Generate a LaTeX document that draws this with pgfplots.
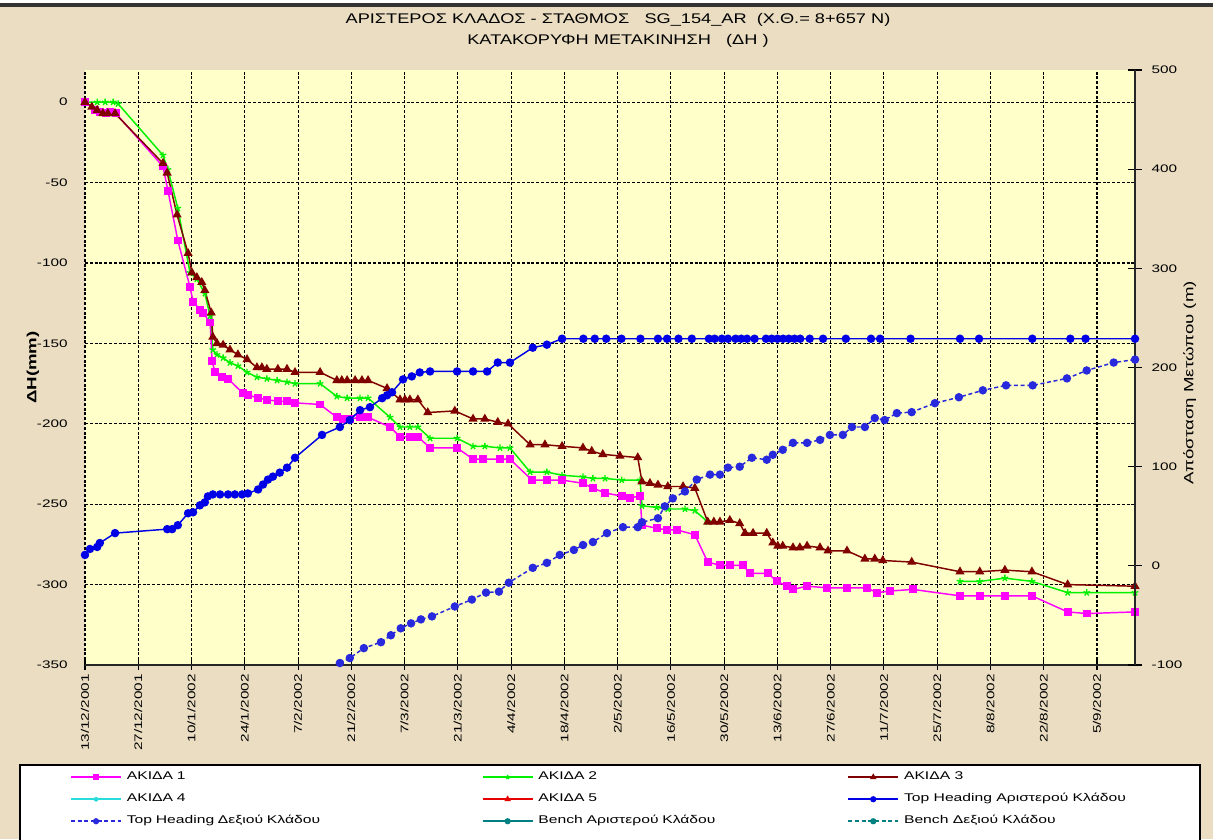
\documentclass[border=0pt]{standalone}
\usepackage{fontspec}
\setmainfont{Liberation Sans}
\newfontfamily\lab{Liberation Sans}[FakeStretch=1.4]
\newfontfamily\ttl{Liberation Sans}[FakeStretch=1.3]
\usepackage{pgfplots}
\usepackage{pgfplotstable}
\pgfplotsset{compat=1.18}

\definecolor{parch}{RGB}{234,221,194}
\definecolor{plotbg}{RGB}{255,255,202}
\definecolor{ak1}{RGB}{255,0,255}
\definecolor{ak2}{RGB}{0,240,0}
\definecolor{ak3}{RGB}{128,0,0}
\definecolor{ak4}{RGB}{40,220,220}
\definecolor{ak5}{RGB}{230,0,0}
\definecolor{thb}{RGB}{0,0,230}
\definecolor{thd}{RGB}{40,40,220}
\definecolor{bench}{RGB}{0,128,128}

% day 0 = 13/12/2001 ; displacement in mm (left axis)
\pgfplotstableread{
d v
0 0
2.6 -5
3.9 -6
5.5 -7
6.6 -6
8.1 -7
20.5 -40
21.8 -55
24.4 -86
27.6 -115
28.4 -124
30.2 -129
31.0 -131
32.9 -137
33.4 -161
34.2 -168
36.0 -171
37.6 -172
41.5 -181
42.8 -182
45.5 -184
47.8 -185
50.7 -186
53.1 -186
55.2 -187
61.8 -188
66.2 -196
67.8 -197
69.6 -197
72.3 -196
74.4 -196
80.2 -202
82.8 -208
85.4 -208
87.5 -208
90.7 -215
97.8 -215
102.0 -222
104.6 -222
109.1 -222
111.7 -222
117.5 -235
121.4 -235
125.4 -235
130.9 -237
133.5 -240
136.7 -243
141.1 -245
143.2 -246
145.9 -245
146.4 -263
150.3 -265
153.0 -266
155.6 -266
160.3 -269
163.7 -286
166.9 -288
169.5 -288
172.9 -288
174.8 -293
179.5 -293
181.9 -298
184.5 -301
186.1 -303
189.8 -301
195.0 -302
200.3 -302
205.5 -302
208.1 -305
211.6 -304
217.6 -303
230.0 -307
235.2 -307
241.8 -307
248.9 -307
258.3 -317
263.3 -318
276.0 -317
}\akidaA

\pgfplotstableread{
d v
0 0
3.2 0
5.3 0
7.4 0
8.7 -1
20.5 -33
21.8 -42
24.4 -66
27.6 -106
29.4 -110
31.5 -119
32.9 -133
33.6 -154
34.7 -157
36.3 -159
38.1 -162
40.2 -164
42.6 -168
45.2 -171
47.8 -172
50.5 -173
53.1 -174
55.2 -175
61.8 -175
66.2 -183
68.9 -184
72.3 -184
74.4 -184
80.2 -196
82.8 -202
85.4 -202
87.5 -202
90.7 -209
97.8 -209
102.0 -214
105.1 -214
109.1 -215
111.7 -215
117.0 -230
121.4 -230
125.4 -232
130.9 -233
133.5 -234
136.7 -234
141.1 -235
145.9 -235
146.4 -251
150.3 -252
153.2 -253
157.7 -253
160.3 -254
163.7 -261
190.0 nan
230.0 -298
235.2 -298
241.8 -296
248.9 -298
258.3 -305
263.3 -305
276.0 -305
}\akidaB

\pgfplotstableread{
d v
0 0
1.8 -3
3.2 -5
4.7 -7
6.0 -7
7.9 -7
20.5 -38
21.6 -44
24.2 -70
27.1 -94
28.1 -106
29.4 -109
30.7 -112
31.5 -117
33.2 -131
33.6 -146
34.7 -150
36.3 -151
38.1 -154
40.2 -157
42.6 -160
45.2 -165
46.5 -165
47.8 -166
50.7 -166
53.1 -166
55.2 -168
61.8 -168
66.2 -173
67.5 -173
68.9 -173
71.0 -173
72.8 -173
74.4 -173
79.4 -178
82.8 -185
84.1 -185
85.4 -185
87.5 -185
90.1 -193
97.2 -192
102.0 -197
105.1 -197
108.5 -199
111.2 -200
117.0 -213
120.9 -213
125.4 -214
130.9 -215
133.2 -217
136.1 -219
140.6 -220
145.3 -221
146.4 -236
148.5 -237
150.6 -238
153.2 -239
157.2 -239
160.3 -240
163.7 -261
165.3 -261
166.9 -261
169.5 -260
172.1 -262
173.5 -268
175.6 -268
179.2 -268
180.8 -274
182.1 -276
183.4 -276
186.1 -277
187.9 -277
189.8 -276
193.2 -277
195.3 -279
200.3 -279
205.0 -284
207.6 -284
209.7 -285
217.3 -286
230.0 -292
235.2 -292
241.8 -291
248.9 -292
258.3 -300
276.0 -301
}\akidaC

% face distance in m (right axis)
\pgfplotstableread{
d r
0 11
1.3 17
3.2 19
3.9 23
7.9 33
21.6 37
22.9 37
24.4 41
27.1 53
28.4 54
30.2 61
31.5 64
32.3 70
33.6 72
35.5 72
37.6 72
39.4 72
41.3 72
42.8 73
45.5 77
46.8 82
48.1 87
49.4 90
51.2 94
53.1 99
55.2 109
62.3 132
67.0 140
69.6 147
72.3 157
74.9 160
78.1 169
79.4 172
80.7 175
83.6 188
85.9 191
88.0 195
90.7 196
97.8 196
102.0 196
105.7 196
108.5 205
111.7 205
117.7 220
121.4 223
125.4 229
131 229
134 229
137 229
141 229
146 229
150.6 229
153 229
156 229
159.5 229
164 229
165.5 229
167.4 229
169 229
171 229
172.5 229
174 229
176 229
179 229
180.5 229
182 229
183.5 229
185 229
186.5 229
188 229
190.5 229
194 229
200 229
206.6 229
209 229
217 229
230 229
235 229
249 229
259 229
263 229
276 229
}\topL

\pgfplotstableread{
d r
67.0 -98
69.6 -93
73.3 -83
77.8 -77
80.4 -70
83.0 -63
85.7 -58
88.3 -54
91.2 -51
97.2 -41
101.7 -34
105.4 -27
108.8 -26
111.4 -17
117.7 -2
121.4 3
124.8 11
128.5 16
130.9 21
133.5 24
137.2 33
141.4 39
145.3 39
146.4 44
150.6 48
152.4 60
154.5 68
157.7 75
160.8 87
164.3 92
166.9 92
169.0 99
172.1 100
175.3 109
179.2 107
180.8 112
183.4 117
186.1 124
189.8 124
193.2 127
195.8 132
199.2 132
201.6 140
205.0 140
207.6 149
210.2 147
213.4 154
217.3 155
223.4 164
229.7 170
236.0 177
242.1 182
249.1 182
258.1 189
263.3 197
270.4 205
276.0 208
}\topR

\pgfplotsset{
  akA/.style={color=ak1, line width=1.1pt, mark=square*, mark size=2.4pt},
  akB/.style={color=ak2, line width=1.1pt, mark=star, mark size=2.6pt, mark options={line width=1pt}},
  akC/.style={color=ak3, line width=1.1pt, mark=triangle*, mark size=2.9pt},
  akD/.style={color=ak4, line width=1.1pt, mark=asterisk, mark size=2.4pt},
  akE/.style={color=ak5, line width=1.1pt, mark=triangle*, mark size=2.6pt},
  thL/.style={color=thb, line width=1.1pt, mark=*, mark size=2.6pt},
  thR/.style={color=thd, line width=1.1pt, dash pattern=on 3pt off 2pt, mark=*, mark size=2.6pt, mark options={solid}},
  bnL/.style={color=bench, line width=1.1pt, mark=*, mark size=2.4pt},
  bnR/.style={color=bench, line width=1.1pt, dash pattern=on 3pt off 2pt, mark=*, mark size=2.4pt, mark options={solid}},
  frame/.style={
    at={(63.75pt,130.5pt)}, anchor=south west,
    scale only axis, width=787.5pt, height=446.25pt,
    xmin=0, xmax=276,
    /pgf/number format/assume math mode=true,
    ticklabel style={font=\lab\fontsize{8.2}{9}\selectfont},
    unbounded coords=jump,
  },
}

\begin{document}
\begin{tikzpicture}[x=0.75pt,y=0.75pt]
\useasboundingbox (0,0) rectangle (1213,839);
\fill[parch] (0,0) rectangle (1213,839);
\fill[white] (0,836) rectangle (1213,839);
\fill[black!80] (0,832) rectangle (1213,836);
\draw[black, line width=0.9pt, fill=white] (20,-10) rectangle (1200,74);

\begin{axis}[frame,
  ymin=-350, ymax=20,
  axis x line*=bottom, axis y line*=left,
  y axis line style={draw=none},
  x axis line style={line width=1.1pt, black!85},
  axis background/.style={fill=plotbg},
  xtick={0,14,...,266},
  xticklabels={13/12/2001, 27/12/2001, 10/1/2002, 24/1/2002, 7/2/2002, 21/2/2002, 7/3/2002, 21/3/2002, 4/4/2002, 18/4/2002, 2/5/2002, 16/5/2002, 30/5/2002, 13/6/2002, 27/6/2002, 11/7/2002, 25/7/2002, 8/8/2002, 22/8/2002, 5/9/2002},
  xticklabel style={rotate=90, anchor=east, yshift=0pt},
  ytick={-350,-300,...,0},
  ytick style={draw=none},
  yticklabel style={anchor=east, xshift=-6pt},
  tick align=center, major tick length=7pt,
  xtick style={line width=0.8pt, black},
  grid=major,
  major grid style={black, line width=0.8pt, dash pattern=on 2.2pt off 1.4pt},
  title={ΑΡΙΣΤΕΡΟΣ ΚΛΑΔΟΣ - ΣΤΑΘΜΟΣ \ \ SG\_154\_AR \ (Χ.Θ.= 8+657 N)\\ΚΑΤΑΚΟΡΥΦΗ ΜΕΤΑΚΙΝΗΣΗ \ \ (ΔΗ )},
  title style={at={(axis description cs:0.5076,1.053)}, anchor=center, align=center, yshift=0pt,
    font=\ttl\fontsize{10.5}{15.75}\selectfont},
  ylabel={ΔH(mm)},
  every axis y label/.style={at={(axis description cs:-0.0495,0.5)}, rotate=90, anchor=center,
    font=\lab\bfseries\fontsize{10}{11}\selectfont},
]
\addplot[akB] table[x=d, y=v] {\akidaB};
\addplot[akA] table[x=d, y=v] {\akidaA};
\addplot[akC] table[x=d, y=v] {\akidaC};
\end{axis}

\begin{axis}[frame,
  ymin=-100, ymax=500,
  axis x line=none, axis y line*=right,
  y axis line style={line width=1.1pt, black!85},
  ytick={-100,0,...,500},
  tick align=center, major tick length=10pt,
  ytick style={line width=0.8pt, black},
  yticklabel style={anchor=west, xshift=4pt},
  ylabel={Απόσταση Μετώπου (m)},
  every axis y label/.style={at={(axis description cs:1.052,0.474)}, rotate=90, anchor=center,
    font=\lab\fontsize{10}{11}\selectfont},
  legend columns=3,
  legend cell align=left,
  legend image code/.code={\draw[mark repeat=2,mark phase=2] plot coordinates {(0pt,0pt) (18.75pt,0pt) (37.5pt,0pt)};},
  legend image post style={mark size=1.7pt, line width=1.2pt},
  legend style={at={(axis description cs:-0.0143,-0.177)}, anchor=north west,
    draw=none, fill=none, inner sep=0pt, row sep=6.5pt,
    font=\lab\fontsize{8.4}{9}\selectfont,
    nodes={inner xsep=3.75pt, inner ysep=1pt, text height=6pt, text depth=2pt},
    /tikz/column 2/.style={text width=262.5pt},
    /tikz/column 4/.style={text width=228pt}},
]
\addlegendimage{akA}
\addlegendimage{akB}
\addlegendimage{akC}
\addlegendimage{akD}
\addlegendimage{akE}
\addplot[thL] table[x=d, y=r] {\topL};
\addplot[thR] table[x=d, y=r] {\topR};
\addlegendimage{bnL}
\addlegendimage{bnR}
\legend{ΑΚΙΔΑ 1, ΑΚΙΔΑ 2, ΑΚΙΔΑ 3, ΑΚΙΔΑ 4, ΑΚΙΔΑ 5, Top Heading Αριστερού Κλάδου, Top Heading Δεξιού Κλάδου, Bench Αριστερού Κλάδου, Bench Δεξιού Κλάδου}
\end{axis}
\end{tikzpicture}
\end{document}
